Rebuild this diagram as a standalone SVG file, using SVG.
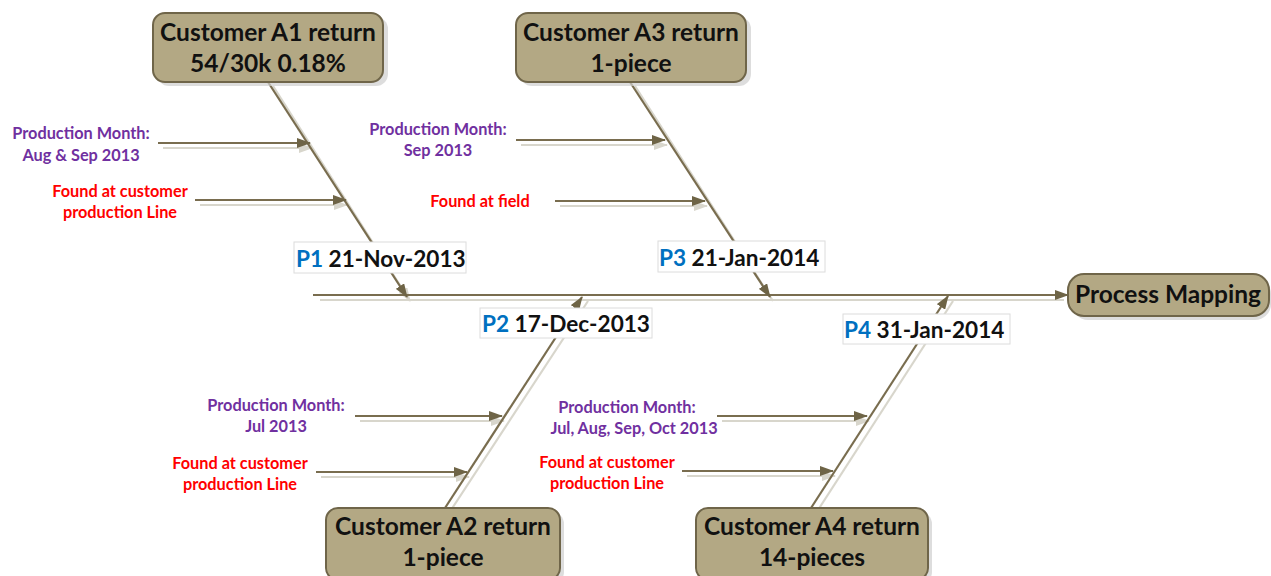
<svg xmlns="http://www.w3.org/2000/svg" width="1271" height="576" viewBox="0 0 1271 576">
<style>
.node{fill:#b3a884;stroke:#6f6549;stroke-width:2}
.shadow{fill:#cfcfcf;opacity:0.7}
.nt{font-family:Lato,"Open Sans",sans-serif;font-weight:bold;font-size:24.5px;fill:#111;text-anchor:middle}
.con{stroke:#796d4f;stroke-width:2.2;fill:none}
.csh{stroke:#d8d6cc;stroke-width:2.2;fill:none}
.pu{font-family:Lato,"Open Sans",sans-serif;font-weight:bold;font-size:16.3px;fill:#7030a0;text-anchor:middle}
.rd{font-family:Lato,"Open Sans",sans-serif;font-weight:bold;font-size:16.3px;fill:#ff0000;text-anchor:middle}
.pbox{fill:#fff;stroke:#dcdcdc;stroke-width:1}
.pt{font-family:Lato,"Open Sans",sans-serif;font-weight:bold;font-size:22.6px;fill:#111}
.pb{fill:#0070c0}
</style>
<defs>
<marker id="ah" markerWidth="14" markerHeight="10" refX="13" refY="5" orient="auto" markerUnits="userSpaceOnUse">
<path d="M0,0 L14,5 L0,10 Z" fill="#6e6446"/>
</marker>
<marker id="ahs" markerWidth="14" markerHeight="10" refX="13" refY="5" orient="auto" markerUnits="userSpaceOnUse">
<path d="M0,0 L14,5 L0,10 Z" fill="#d8d6cc"/>
</marker>
</defs>
<g id="connectors">
<line class="csh" x1="320" y1="300" x2="1064" y2="300"/>
<line class="csh" x1="273" y1="86" x2="410" y2="301" marker-end="url(#ahs)"/>
<line class="csh" x1="635" y1="86" x2="773" y2="301"/>
<line class="csh" x1="451" y1="510" x2="588" y2="301"/>
<line class="csh" x1="818" y1="510" x2="953" y2="301"/>
<line class="csh" x1="163" y1="148" x2="312" y2="148" marker-end="url(#ahs)"/>
<line class="csh" x1="200" y1="205" x2="347" y2="205" marker-end="url(#ahs)"/>
<line class="csh" x1="521" y1="145" x2="667" y2="145" marker-end="url(#ahs)"/>
<line class="csh" x1="560" y1="206" x2="707" y2="206" marker-end="url(#ahs)"/>
<line class="csh" x1="360" y1="421" x2="504" y2="421" marker-end="url(#ahs)"/>
<line class="csh" x1="321" y1="477" x2="469" y2="477" marker-end="url(#ahs)"/>
<line class="csh" x1="722" y1="421" x2="869" y2="421" marker-end="url(#ahs)"/>
<line class="csh" x1="687" y1="476" x2="835" y2="476" marker-end="url(#ahs)"/>
<line class="con" x1="313" y1="295" x2="1068" y2="295" marker-end="url(#ah)"/>
<line class="con" x1="268" y1="82" x2="407" y2="297" marker-end="url(#ah)"/>
<line class="con" x1="630" y1="82" x2="770" y2="297" marker-end="url(#ah)"/>
<line class="con" x1="445" y1="508" x2="582" y2="297" marker-end="url(#ah)"/>
<line class="con" x1="811" y1="508" x2="948" y2="296" marker-end="url(#ah)"/>
<line class="con" x1="158" y1="143" x2="310" y2="143" marker-end="url(#ah)"/>
<line class="con" x1="195" y1="200" x2="346" y2="200" marker-end="url(#ah)"/>
<line class="con" x1="516" y1="140" x2="665" y2="140" marker-end="url(#ah)"/>
<line class="con" x1="555" y1="201" x2="705" y2="201" marker-end="url(#ah)"/>
<line class="con" x1="355" y1="416" x2="502" y2="416" marker-end="url(#ah)"/>
<line class="con" x1="316" y1="472" x2="467" y2="472" marker-end="url(#ah)"/>
<line class="con" x1="717" y1="416" x2="867" y2="416" marker-end="url(#ah)"/>
<line class="con" x1="682" y1="471" x2="833" y2="471" marker-end="url(#ah)"/>
</g>
<g id="nodeA1">
<rect class="shadow" x="157" y="17" width="231" height="69" rx="12"/>
<rect class="node" x="153" y="13" width="230" height="69" rx="12"/>
<text class="nt" x="268" y="41">Customer A1 return</text>
<text class="nt" x="268" y="72">54/30k 0.18%</text>
</g>
<g id="nodeA3">
<rect class="shadow" x="520" y="17" width="231" height="69" rx="12"/>
<rect class="node" x="516" y="13" width="230" height="69" rx="12"/>
<text class="nt" x="631" y="41">Customer A3 return</text>
<text class="nt" x="631" y="72">1-piece</text>
</g>
<g id="nodeA2">
<rect class="shadow" x="330" y="512" width="234" height="72" rx="12"/>
<rect class="node" x="326" y="508" width="234" height="72" rx="12"/>
<text class="nt" x="443" y="535">Customer A2 return</text>
<text class="nt" x="443" y="566">1-piece</text>
</g>
<g id="nodeA4">
<rect class="shadow" x="700" y="512" width="232" height="72" rx="12"/>
<rect class="node" x="696" y="508" width="232" height="72" rx="12"/>
<text class="nt" x="812" y="535">Customer A4 return</text>
<text class="nt" x="812" y="566">14-pieces</text>
</g>
<g id="nodePM">
<rect class="shadow" x="1072" y="278" width="199" height="42" rx="16"/>
<rect class="node" x="1068" y="274" width="201" height="42" rx="16"/>
<text class="nt" x="1168" y="303">Process Mapping</text>
</g>
<g id="labelsA1">
<text class="pu" x="81" y="139">Production Month:</text>
<text class="pu" x="81" y="161">Aug &amp; Sep 2013</text>
<text class="rd" x="120" y="197">Found at customer</text>
<text class="rd" x="120" y="218">production Line</text>
</g>
<g id="labelsA3">
<text class="pu" x="438" y="135">Production Month:</text>
<text class="pu" x="438" y="156">Sep 2013</text>
<text class="rd" x="480" y="207">Found at field</text>
</g>
<g id="labelsA2">
<text class="pu" x="276" y="411">Production Month:</text>
<text class="pu" x="276" y="432">Jul 2013</text>
<text class="rd" x="240" y="469">Found at customer</text>
<text class="rd" x="240" y="490">production Line</text>
</g>
<g id="labelsA4">
<text class="pu" x="627" y="413">Production Month:</text>
<text class="pu" x="634" y="434">Jul, Aug, Sep, Oct 2013</text>
<text class="rd" x="607" y="468">Found at customer</text>
<text class="rd" x="607" y="489">production Line</text>
</g>
<g id="P1">
<rect class="pbox" x="294" y="242" width="172" height="31"/>
<text class="pt" x="296" y="267"><tspan class="pb">P1</tspan> 21-Nov-2013</text>
</g>
<g id="P3">
<rect class="pbox" x="658" y="241" width="167" height="31"/>
<text class="pt" x="659" y="266"><tspan class="pb">P3</tspan> 21-Jan-2014</text>
</g>
<g id="P2">
<rect class="pbox" x="480" y="308" width="172" height="30"/>
<text class="pt" x="482" y="332"><tspan class="pb">P2</tspan> 17-Dec-2013</text>
</g>
<g id="P4">
<rect class="pbox" x="843" y="314" width="167" height="30"/>
<text class="pt" x="844" y="338"><tspan class="pb">P4</tspan> 31-Jan-2014</text>
</g>
</svg>
